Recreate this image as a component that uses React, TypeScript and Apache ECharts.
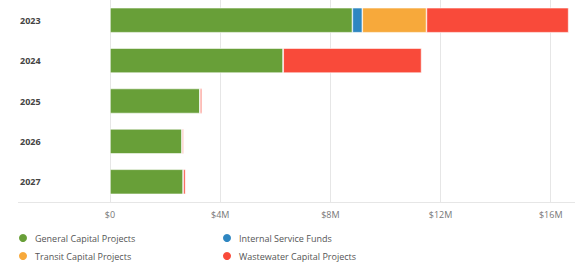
import React, { useEffect, useRef } from "react";
import * as echarts from "echarts";

const years = ["2023", "2024", "2025", "2026", "2027"];
const generalCapital = [8.8, 6.29, 3.27, 2.62, 2.66];
const internalService = [0.36, 0, 0, 0, 0];
const transitCapital = [2.33, 0, 0, 0, 0];
const wastewaterCapital = [5.16, 5.02, 0.07, 0.05, 0.08];
const tickLabels = ["$0", "$4M", "$8M", "$12M", "$16M"];

const seriesNames = [
  "General Capital Projects",
  "Internal Service Funds",
  "Transit Capital Projects",
  "Wastewater Capital Projects",
];
const colors = ["#689f38", "#2e86c1", "#f7a93b", "#f94a3a"];
const legendPos = [
  { left: 17, top: 232 },
  { left: 221, top: 232 },
  { left: 17, top: 250 },
  { left: 221, top: 250 },
];

export default function App() {
  const ref = useRef<HTMLDivElement>(null);
  useEffect(() => {
    if (!ref.current) return;
    const chart = echarts.init(ref.current, undefined, { renderer: "svg" });
    const font = "'Open Sans', sans-serif";
    const dataSets = [generalCapital, internalService, transitCapital, wastewaterCapital];
    chart.setOption({
      animation: false,
      textStyle: { fontFamily: font },
      grid: { left: 110, right: 7, top: 0, bottom: 64, containLabel: false },
      xAxis: {
        type: "value",
        min: 0,
        max: 16.7,
        interval: 4,
        axisLine: { show: false },
        axisTick: { show: false },
        splitLine: { show: true, showMaxLine: false, lineStyle: { color: "#e6e6e6", width: 1 } },
        axisLabel: {
          showMaxLabel: false,
          color: "#777",
          fontSize: 9,
          fontFamily: font,
          margin: 8,
          formatter: (v: number) => tickLabels[Math.round(v / 4)] ?? "",
        },
      },
      yAxis: {
        type: "category",
        data: years,
        inverse: true,
        axisLine: { show: true, lineStyle: { color: "#e6e6e6", width: 1 } },
        axisTick: { show: false },
        axisLabel: {
          align: "left",
          margin: 90,
          color: "#444",
          fontWeight: "bold",
          fontSize: 9,
          fontFamily: font,
        },
      },
      legend: seriesNames.map((name, i) => ({
        left: legendPos[i].left,
        top: legendPos[i].top,
        padding: 0,
        icon: "circle",
        itemWidth: 10,
        itemHeight: 10,
        data: [name],
        textStyle: { color: "#555", fontSize: 9, fontFamily: font, padding: [0, 0, 0, 2] },
      })),
      graphic: [
        {
          type: "line",
          shape: { x1: 18, y1: 202.5, x2: 575, y2: 202.5 },
          style: { stroke: "#e6e6e6", lineWidth: 1 },
          silent: true,
        },
      ],
      series: seriesNames.map((name, i) => ({
        name,
        type: "bar",
        stack: "total",
        barWidth: 25,
        itemStyle: { color: colors[i], borderColor: "#ffffff", borderWidth: 0.6 },
        data: dataSets[i],
      })),
    });
    return () => chart.dispose();
  }, []);
  return <div ref={ref} style={{ width: 577, height: 266, position: "absolute", left: 0, top: 0 }} />;
}
